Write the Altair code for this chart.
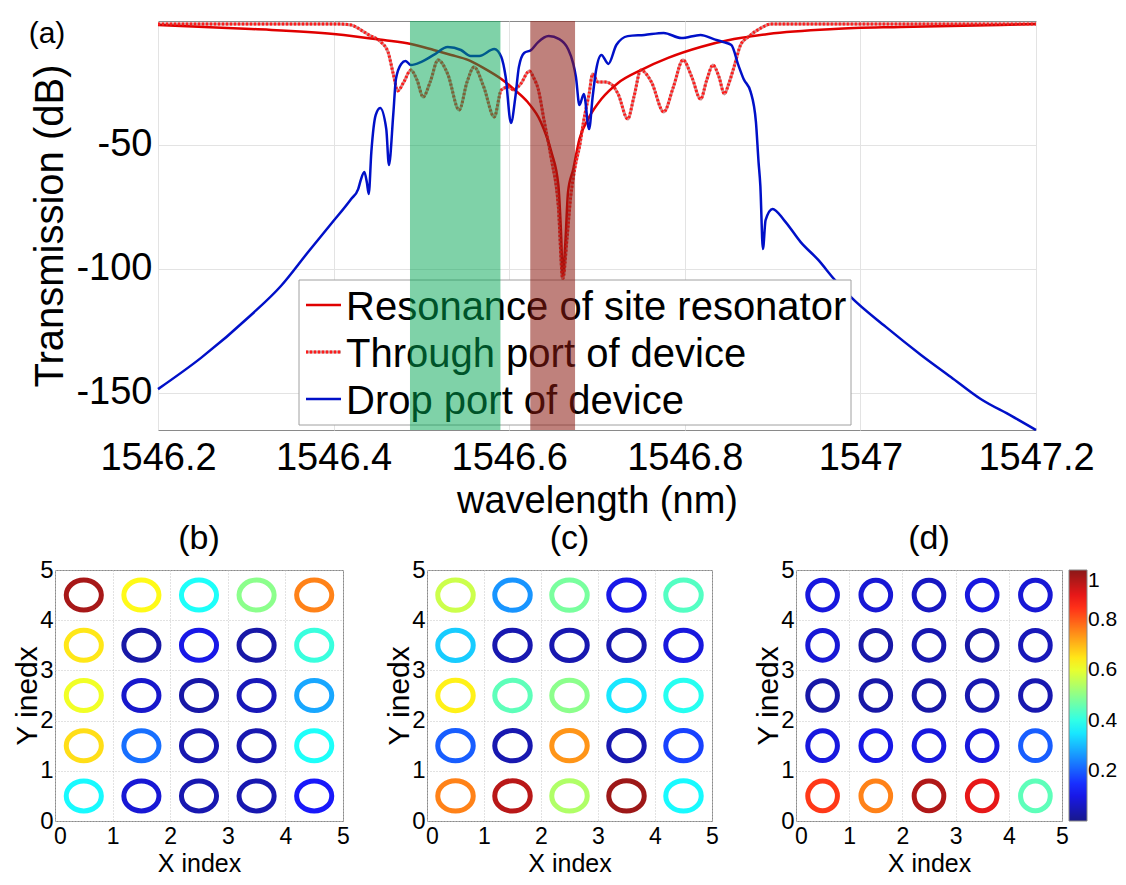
import altair as alt
import pandas as pd

FONT = "Liberation Sans"

# ---------------- panel (a): transmission spectra ----------------
res_wl = [1546.200, 1546.306, 1546.400, 1546.457, 1546.488, 1546.514, 1546.534, 1546.553,
          1546.571, 1546.591, 1546.605, 1546.621, 1546.636, 1546.648, 1546.656, 1546.659,
          1546.661, 1546.664, 1546.667, 1546.673, 1546.680, 1546.690, 1546.705, 1546.724,
          1546.750, 1546.781, 1546.818, 1546.856, 1546.895, 1546.970, 1547.046, 1547.160,
          1547.200]
res_db = [-1.6, -3.2, -5.2, -7.7, -9.3, -11.7, -13.7, -15.7,
          -19.0, -23.4, -27.4, -32.7, -40.7, -52.8, -66.2, -85.1,
          -102.5, -89.2, -69.0, -59.7, -47.6, -39.5, -31.5, -25.0,
          -19.8, -14.9, -10.5, -7.3, -5.2, -3.2, -2.4, -1.6,
          -1.2]

thr_wl = [1546.200, 1546.306, 1546.405, 1546.420, 1546.431, 1546.440, 1546.454, 1546.462,
          1546.468, 1546.473, 1546.480, 1546.488, 1546.495, 1546.502, 1546.510, 1546.519,
          1546.530, 1546.543, 1546.552, 1546.560, 1546.571, 1546.583, 1546.591, 1546.599,
          1546.605, 1546.613, 1546.623, 1546.628, 1546.633, 1546.640, 1546.648, 1546.656,
          1546.661, 1546.666, 1546.670, 1546.675, 1546.680, 1546.685, 1546.691, 1546.695,
          1546.701, 1546.709, 1546.716, 1546.724, 1546.735, 1546.742, 1546.750, 1546.762,
          1546.776, 1546.787, 1546.798, 1546.808, 1546.818, 1546.825, 1546.832, 1546.839,
          1546.845, 1546.850, 1546.856, 1546.864, 1546.872, 1546.887, 1546.898, 1547.046,
          1547.200]
thr_db = [-1.2, -1.2, -1.2, -1.6, -3.6, -5.6, -8.5, -12.5,
          -21.4, -28.2, -24.6, -19.8, -23.8, -30.7, -24.6, -15.7,
          -21.4, -35.9, -24.6, -18.6, -26.6, -38.7, -27.8, -26.6,
          -27.8, -25.4, -20.2, -23.0, -27.4, -40.7, -55.7, -75.0,
          -104.1, -87.1, -71.0, -58.9, -50.8, -39.9, -29.4, -21.4,
          -24.6, -24.6, -25.4, -29.4, -39.5, -30.7, -19.8, -24.6,
          -36.7, -26.6, -15.7, -22.6, -31.5, -23.8, -17.8, -22.6,
          -29.4, -25.4, -18.6, -9.3, -6.5, -2.8, -1.2, -1.2,
          -1.2]

drop_wl = [1546.200, 1546.249, 1546.306, 1546.340, 1546.371, 1546.397, 1546.420, 1546.428,
           1546.431, 1546.435, 1546.438, 1546.440, 1546.443, 1546.448, 1546.453, 1546.460,
           1546.463, 1546.468, 1546.471, 1546.477, 1546.482, 1546.488, 1546.500, 1546.514,
           1546.530, 1546.545, 1546.556, 1546.566, 1546.583, 1546.591, 1546.596, 1546.602,
           1546.607, 1546.611, 1546.617, 1546.625, 1546.633, 1546.645, 1546.657, 1546.667,
           1546.673, 1546.676, 1546.680, 1546.685, 1546.691, 1546.695, 1546.699, 1546.705,
           1546.713, 1546.722, 1546.735, 1546.754, 1546.776, 1546.796, 1546.818, 1546.833,
           1546.844, 1546.853, 1546.861, 1546.867, 1546.875, 1546.881, 1546.884, 1546.886,
           1546.889, 1546.892, 1546.900, 1546.913, 1546.932, 1546.952, 1546.970, 1546.989,
           1547.029, 1547.069, 1547.103, 1547.137, 1547.172, 1547.200]
drop_db = [-148.5, -135.9, -118.6, -106.9, -93.2, -81.9, -71.8, -67.8,
           -64.1, -60.9, -65.4, -69.8, -52.8, -37.9, -35.1, -43.6,
           -58.1, -37.5, -23.4, -17.3, -16.1, -17.8, -16.5, -13.7,
           -10.5, -11.7, -14.1, -14.1, -11.3, -14.5, -22.6, -41.1,
           -30.7, -18.6, -12.9, -11.7, -8.5, -6.1, -7.3, -11.3,
           -17.3, -22.6, -33.9, -29.4, -43.6, -30.7, -19.8, -13.7,
           -17.3, -9.7, -6.1, -5.6, -4.8, -6.9, -5.6, -7.3,
           -8.5, -9.7, -17.8, -23.4, -28.6, -40.7, -56.9, -66.2,
           -92.0, -80.3, -75.8, -80.3, -89.2, -96.4, -104.1, -111.3,
           -123.4, -134.7, -143.6, -152.5, -159.3, -165.0]

band_names = ["green window", "brown window"]
band_start = [1546.487, 1546.624]
band_end = [1546.590, 1546.675]
band_colors = ["#00a651", "#8b1a10"]
band_opacity = [0.5, 0.55]

legend_labels = ["Resonance of site resonator", "Through port of device", "Drop port of device"]

x_ticks = [1546.2, 1546.4, 1546.6, 1546.8, 1547.0, 1547.2]
y_ticks = [-150, -100, -50]

# ---------------- panels (b)-(d): ring intensities, rows listed top (y=4.5) to bottom ----------------
ring_centers = [0.5, 1.5, 2.5, 3.5, 4.5]
b_vals = [[0.97, 0.63, 0.38, 0.50, 0.76],
          [0.65, 0.03, 0.10, 0.03, 0.41],
          [0.61, 0.07, 0.03, 0.05, 0.28],
          [0.66, 0.22, 0.04, 0.04, 0.38],
          [0.37, 0.08, 0.04, 0.04, 0.12]]
c_vals = [[0.57, 0.26, 0.48, 0.10, 0.44],
          [0.32, 0.04, 0.04, 0.04, 0.09],
          [0.64, 0.45, 0.50, 0.35, 0.39],
          [0.20, 0.04, 0.74, 0.04, 0.17],
          [0.76, 0.95, 0.54, 0.98, 0.37]]
d_vals = [[0.09, 0.08, 0.06, 0.09, 0.08],
          [0.08, 0.03, 0.04, 0.03, 0.05],
          [0.03, 0.03, 0.03, 0.04, 0.04],
          [0.09, 0.10, 0.09, 0.09, 0.20],
          [0.84, 0.76, 0.96, 0.90, 0.45]]
grid_ticks = [0, 1, 2, 3, 4, 5]
cbar_ticks = [0.2, 0.4, 0.6, 0.8, 1.0]

jet_stops = [0.0, 0.125, 0.375, 0.625, 0.875, 1.0]
jet_colors = ["#00007f", "#0000ff", "#00ffff", "#ffff00", "#ff0000", "#7f0000"]

# ---------------- build panel (a) ----------------
W_A, H_A = 878, 409
xs = alt.Scale(domain=[1546.2, 1547.2], nice=False, zero=False)
ys = alt.Scale(domain=[-165, 0], nice=False, zero=False)
ax_x = alt.Axis(values=x_ticks, format="~g", grid=True, gridColor="#e3e3e3", domain=False,
                ticks=False, tickSize=0, labelFontSize=38, labelPadding=9, labelColor="black",
                labelFlush=False, titleFontSize=38, titleFontWeight="normal", titleColor="black",
                titlePadding=5)
ax_y = alt.Axis(values=y_ticks, labelExpr="'-' + format(abs(datum.value), 'd')", grid=True,
                gridColor="#e3e3e3", domain=False, ticks=False,
                tickSize=0, labelFontSize=38, labelPadding=6, labelColor="black", labelFlush=False,
                titleFontSize=40, titleFontWeight="normal", titleColor="black", titlePadding=5)


def X(field):
    return alt.X(f"{field}:Q", scale=xs, axis=ax_x, title="wavelength (nm)")


Y = alt.Y("db:Q", scale=ys, axis=ax_y, title="Transmission (dB)")

res_df = pd.DataFrame({"wl": res_wl, "db": res_db})
thr_df = pd.DataFrame({"wl": thr_wl, "db": thr_db})
drop_df = pd.DataFrame({"wl": drop_wl, "db": drop_db})
band_df = pd.DataFrame({"name": band_names, "start": band_start, "end": band_end})
leg_df = pd.DataFrame({"label": legend_labels})

res_line = alt.Chart(res_df).mark_line(color="#e00000", strokeWidth=2.5, interpolate="monotone").encode(
    x=X("wl"), y=Y)
thr_base = alt.Chart(thr_df).mark_line(color="#a81515", strokeWidth=3, opacity=0.5,
                                       interpolate="monotone").encode(x=X("wl"), y=Y)
thr_dots = alt.Chart(thr_df).mark_line(color="#ff1a1a", strokeWidth=3, strokeDash=[2, 2],
                                       interpolate="monotone").encode(x=X("wl"), y=Y)
drop_line = alt.Chart(drop_df).mark_line(color="#0010c8", strokeWidth=2.5, interpolate="monotone").encode(
    x=X("wl"), y=Y)

legend_box = alt.Chart(leg_df.iloc[[0]]).mark_rect(fill="white", stroke="#a0a0a0", strokeWidth=1).encode(
    x=alt.value(141), x2=alt.value(693), y=alt.value(259), y2=alt.value(404))

row_line_y = [284, 331, 378]
row_text_y = [287, 334, 381]
legend_layers = [legend_box]
legend_layers.append(alt.Chart(leg_df.iloc[[0]]).mark_rule(color="#e00000", strokeWidth=2.5).encode(
    x=alt.value(148), x2=alt.value(183), y=alt.value(row_line_y[0])))
legend_layers.append(alt.Chart(leg_df.iloc[[1]]).mark_rule(color="#a81515", strokeWidth=3, opacity=0.5).encode(
    x=alt.value(148), x2=alt.value(183), y=alt.value(row_line_y[1])))
legend_layers.append(alt.Chart(leg_df.iloc[[1]]).mark_rule(color="#ff1a1a", strokeWidth=3, strokeDash=[2, 2]).encode(
    x=alt.value(148), x2=alt.value(183), y=alt.value(row_line_y[1])))
legend_layers.append(alt.Chart(leg_df.iloc[[2]]).mark_rule(color="#0010c8", strokeWidth=2.5).encode(
    x=alt.value(148), x2=alt.value(183), y=alt.value(row_line_y[2])))
for i in range(len(legend_labels)):
    legend_layers.append(
        alt.Chart(leg_df.iloc[[i]]).mark_text(align="left", baseline="middle", fontSize=40, font=FONT,
                                              color="black").encode(
            x=alt.value(188), y=alt.value(row_text_y[i]), text="label:N"))

band_layers = []
for i in range(len(band_names)):
    band_layers.append(
        alt.Chart(band_df.iloc[[i]]).mark_rect(color=band_colors[i], opacity=band_opacity[i]).encode(
            x=X("start"), x2="end:Q", y=alt.value(0), y2=alt.value(H_A)))

tag_a = alt.Chart(leg_df.iloc[[0]]).mark_text(text="(a)", fontSize=30, font=FONT, color="black",
                                              align="center", baseline="middle").encode(
    x=alt.value(-111), y=alt.value(13))

panel_a = alt.layer(res_line, thr_base, thr_dots, drop_line, *legend_layers, *band_layers, tag_a).properties(
    width=W_A, height=H_A)

spacer = alt.Chart(leg_df.iloc[[0]]).mark_point(opacity=0).encode(
    x=alt.value(0), y=alt.value(0)).properties(width=103, height=H_A,
                                               view=alt.ViewBackground(stroke="transparent"))

top_row = alt.hconcat(spacer, panel_a, spacing=0, bounds="flush")

# ---------------- build panels (b)-(d) ----------------
cscale = alt.Scale(domain=jet_stops, range=jet_colors, interpolate="rgb")


def ring_panel(vals, label, width, aspect, size, legend):
    rows = []
    n = len(vals)
    for r, row in enumerate(vals):
        for c, v in enumerate(row):
            rows.append({"xi": ring_centers[c], "yi": ring_centers[n - 1 - r], "v": v})
    df = pd.DataFrame(rows)
    shape = f"M{-aspect},0A{aspect},1,0,1,1,{aspect},0A{aspect},1,0,1,1,{-aspect},0Z"
    common = dict(values=grid_ticks, format="d", grid=True, gridColor="#c4c4c4", gridDash=[1, 2],
                  domain=False, ticks=False, tickSize=0, labelColor="black",
                  labelFlush=False, titleFontWeight="normal", titleColor="black")
    axx = alt.Axis(labelPadding=4, labelFontSize=23, titleFontSize=25, titlePadding=3,
                   labelOffset={"condition": {"test": "datum.value == 0", "value": 5}, "value": 0},
                   **common)
    axy = alt.Axis(labelPadding=2, labelFontSize=24, titleFontSize=30, titlePadding=-3, **common)
    return alt.Chart(df).mark_point(shape=shape, filled=False, strokeWidth=5, size=size, opacity=0.9).encode(
        x=alt.X("xi:Q", scale=alt.Scale(domain=[0, 5], nice=False), axis=axx, title="X index"),
        y=alt.Y("yi:Q", scale=alt.Scale(domain=[0, 5], nice=False), axis=axy, title="Y inedx"),
        color=alt.Color("v:Q", scale=cscale, legend=legend),
    ).properties(width=width, height=251,
                 title=alt.TitleParams(label, fontSize=34, fontWeight="normal", offset=2,
                                       color="black", font=FONT))


cbar = alt.Legend(title=None, values=cbar_ticks, format="~g", orient="right", direction="vertical",
                  gradientLength=251, gradientThickness=18, gradientStrokeColor="#7a7a7a",
                  gradientStrokeWidth=1, labelFontSize=21, labelColor="black", labelOffset=1,
                  offset=7, padding=0, labelOverlap=False)

panel_b = ring_panel(b_vals, "(b)", 288, 1.17, 900, None)
panel_c = ring_panel(c_vals, "(c)", 285, 1.17, 920, None)
panel_d = ring_panel(d_vals, "(d)", 266, 1.0, 880, cbar)

bottom_row = alt.hconcat(panel_b, panel_c, panel_d, spacing=84, bounds="flush").resolve_scale(
    color="independent")

chart = alt.vconcat(top_row, bottom_row, spacing=0).properties(
    padding={"left": 4, "top": 9, "right": -2, "bottom": 0}
).configure(font=FONT).configure_view(stroke="#8a8a8a")

chart.save("out.html", embed_options={"renderer": "svg", "actions": False})
